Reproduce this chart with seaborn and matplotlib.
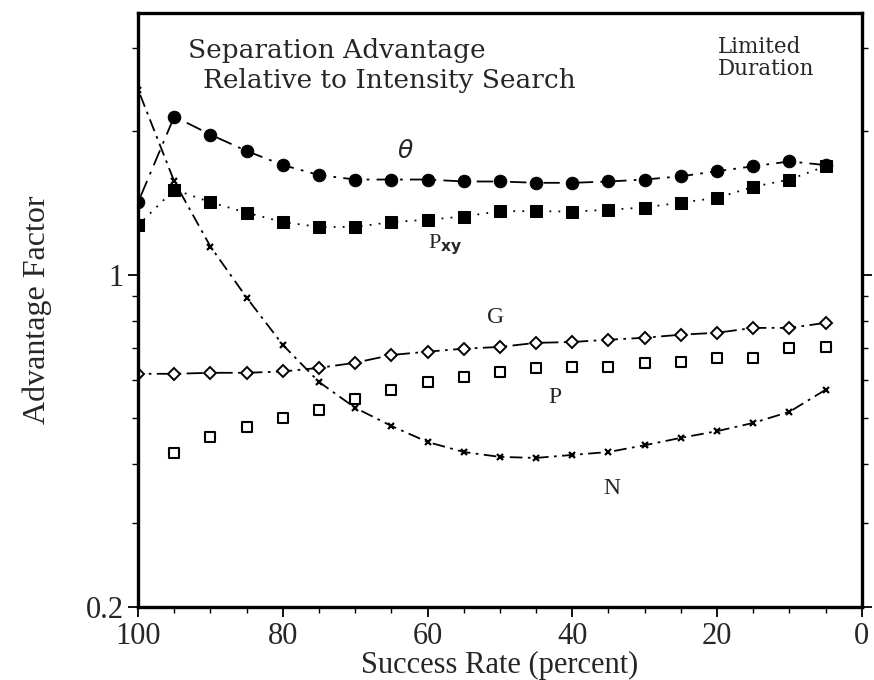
import numpy as np
import pandas as pd
import matplotlib
matplotlib.use("Agg")
import matplotlib.pyplot as plt
import matplotlib.ticker as mticker
import seaborn as sns

# success rate (percent), reversed axis
rate = [100, 95, 90, 85, 80, 75, 70, 65, 60, 55, 50, 45, 40, 35, 30, 25, 20, 15, 10, 5]

theta = [1.42, 2.15, 1.97, 1.82, 1.70, 1.62, 1.585, 1.585, 1.585, 1.57,
         1.57, 1.56, 1.56, 1.57, 1.585, 1.61, 1.65, 1.69, 1.73, 1.70]
p_xy = [1.27, 1.51, 1.42, 1.35, 1.29, 1.26, 1.26, 1.29, 1.305, 1.325,
        1.36, 1.36, 1.357, 1.37, 1.384, 1.418, 1.45, 1.53, 1.585, 1.69]
g_vals = [0.619, 0.619, 0.622, 0.622, 0.626, 0.637, 0.653, 0.678, 0.689, 0.699,
          0.705, 0.719, 0.722, 0.730, 0.737, 0.748, 0.755, 0.773, 0.773, 0.792]
p_rate = rate[1:]
p_vals = [0.422, 0.456, 0.479, 0.500, 0.520, 0.548, 0.573, 0.595, 0.61, 0.625,
          0.637, 0.64, 0.64, 0.653, 0.656, 0.669, 0.669, 0.702, 0.705]
n_vals = [2.45, 1.57, 1.146, 0.895, 0.712, 0.595, 0.525, 0.481, 0.445, 0.424,
          0.414, 0.412, 0.418, 0.424, 0.438, 0.454, 0.469, 0.488, 0.515, 0.573]

sns.set_style("ticks")
plt.rcParams["font.family"] = ["Liberation Serif", "DejaVu Serif"]

fig = plt.figure(figsize=(8.74, 6.8), dpi=100)
ax = fig.add_axes([0.158, 0.107, 0.828, 0.874])

lw = 1.3
sns.lineplot(x=rate, y=theta, ax=ax, color="black", lw=lw, linestyle=(0, (9, 4, 1.5, 4)),
             marker="o", markersize=9, markeredgecolor="black", markerfacecolor="black")
sns.lineplot(x=rate, y=p_xy, ax=ax, color="black", lw=lw, linestyle=(0, (1, 4)),
             marker="s", markersize=8, markeredgecolor="black", markerfacecolor="black")
sns.lineplot(x=rate, y=g_vals, ax=ax, color="black", lw=lw, linestyle=(0, (9, 3, 1.5, 3)),
             marker="D", markersize=6, markeredgecolor="black", markerfacecolor="white",
             markeredgewidth=1.4)
sns.lineplot(x=rate, y=n_vals, ax=ax, color="black", lw=lw, linestyle=(0, (7, 3, 1.5, 3)),
             marker="x", markersize=5, markeredgecolor="black", markeredgewidth=1.6)
sns.scatterplot(x=p_rate, y=p_vals, ax=ax, marker="s", s=55, facecolor="white",
                edgecolor="black", linewidth=1.5)

ax.set_yscale("log")
ax.set_xlim(100, 0)
ax.set_ylim(0.2, 3.55)
ax.yaxis.set_major_locator(mticker.FixedLocator([0.2, 1]))
ax.yaxis.set_major_formatter(mticker.FixedFormatter(["0.2", "1"]))
ax.yaxis.set_minor_locator(mticker.LogLocator(subs=np.arange(2, 10)))
ax.yaxis.set_minor_formatter(mticker.NullFormatter())
ax.set_xticks([100, 80, 60, 40, 20, 0])
ax.xaxis.set_minor_locator(mticker.MultipleLocator(5))
ax.tick_params(which="major", labelsize=22, length=7, width=1.3, color="black")
ax.tick_params(which="minor", length=4, width=1.0, color="black")
ax.tick_params(axis="y", which="both", right=True)
for s in ax.spines.values():
    s.set_visible(True)
    s.set_linewidth(2.4)
    s.set_color("black")

ax.set_xlabel("Success Rate (percent)", fontsize=22, labelpad=0)
ax.set_ylabel("Advantage Factor", fontsize=23, labelpad=24)

ax.text(0.069, 0.958, "Separation Advantage", transform=ax.transAxes,
        fontsize=19, family="DejaVu Serif", va="top", ha="left")
ax.text(0.09, 0.907, "Relative to Intensity Search", transform=ax.transAxes,
        fontsize=19, family="DejaVu Serif", va="top", ha="left")
ax.text(0.801, 0.962, "Limited\nDuration", transform=ax.transAxes,
        fontsize=15.5, family="DejaVu Serif", va="top", ha="left", linespacing=1.0)

ax.text(63.1, 1.815, r"$\theta$", fontsize=18, ha="center", va="center")
ax.text(60.0, 1.157, r"P$_{\mathbf{xy}}$", fontsize=16, ha="left", va="center")
ax.text(50.6, 0.812, "G", fontsize=17, ha="center", va="center")
ax.text(42.4, 0.551, "P", fontsize=17, ha="center", va="center")
ax.text(34.5, 0.356, "N", fontsize=17, ha="center", va="center")

fig.savefig("out.png", dpi=100)
